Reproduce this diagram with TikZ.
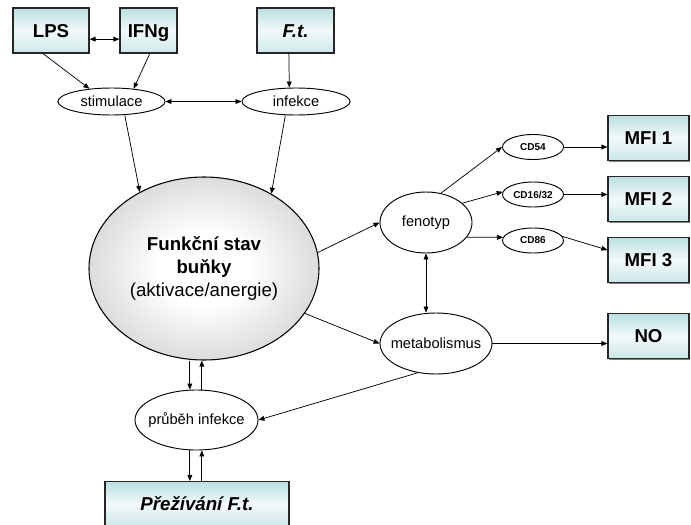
\documentclass[tikz,border=0pt]{standalone}
\usepackage{fontspec}
\setmainfont{Liberation Sans}
\usetikzlibrary{arrows.meta, shapes.geometric, shadows}
\definecolor{cteal}{HTML}{BCDFE2}
\definecolor{cpale}{HTML}{F3F9F9}
\definecolor{cline}{HTML}{262626}
\definecolor{cgrey}{HTML}{DCDCDC}
\pgfdeclareradialshading{cellshade}{\pgfpoint{0bp}{0bp}}{color(0bp)=(white); color(10bp)=(white); color(25bp)=(cgrey); color(50bp)=(cgrey)}
\tikzset{
  every picture/.style={line width=0.6pt},
  box/.style={draw=cline, line width=0.9pt, top color=cteal, bottom color=cteal!75, middle color=cpale,
    minimum width=#1, minimum height=33.75pt, inner sep=0pt, text height=10pt, text depth=0pt,
    font=\fontsize{14}{16}\selectfont\bfseries,
    drop shadow={shadow xshift=1pt, shadow yshift=-1pt, fill=black!50, opacity=1}},
  box/.default=57pt,
  oval/.style={ellipse, draw=black, line width=0.7pt, inner xsep=-6pt, inner ysep=0pt, font=\fontsize{11}{13}\selectfont},
  marker/.style={oval, minimum width=45.75pt, minimum height=18.75pt, font=\fontsize{7.5}{9}\selectfont\bfseries},
  arrow/.style={-{Triangle[length=4.5pt, width=3.6pt]}, draw=black, line width=0.55pt},
  twoway/.style={arrow, {Triangle[length=4.5pt, width=3.6pt]}-{Triangle[length=4.5pt, width=3.6pt]}},
}

\begin{document}
\begin{tikzpicture}[x=0.75pt, y=-0.75pt]
  \useasboundingbox (0,0) rectangle (691,524);
  \clip (0,0) rectangle (691,524);
  % inputs
  \node[box] (lps) at (51,30.5) {LPS};
  \node[box=42.75pt] (ifng) at (148.5,30.5) {IFNg};
  \node[box=57.75pt] (ft) at (295.5,30.5) {\textit{F.t.}};
  \node[oval, minimum width=80.25pt, minimum height=20.25pt] (stim) at (111.5,101.5) {stimulace};
  \node[oval, minimum width=81pt, minimum height=20.25pt] (inf) at (296,101.5) {infekce};
  % cell state
  \node[oval, minimum width=172.5pt, minimum height=137.25pt, line width=0.8pt, shading=cellshade,
    align=center, font=\fontsize{14}{17.5}\selectfont]
    (cell) at (204,268.5) {\textbf{Funkční stav}\\ \textbf{buňky}\\ (aktivace/anergie)};
  \node[oval, minimum width=69pt, minimum height=45.75pt] (feno) at (426,222.5) {fenotyp};
  \node[oval, minimum width=84pt, minimum height=45.75pt] (metab) at (436,343.5) {metabolismus};
  \node[oval, minimum width=92.25pt, minimum height=45pt] (prub) at (196.5,420) {průběh infekce};
  \node[marker] (cd54) at (533,147) {CD54};
  \node[marker] (cd1632) at (533,194.5) {CD16/32};
  \node[marker] (cd86) at (533,240.5) {CD86};
  % outputs
  \node[box=60.75pt] (mfi1) at (648.5,138) {MFI 1};
  \node[box=60.75pt] (mfi2) at (648.5,199) {MFI 2};
  \node[box=60.75pt] (mfi3) at (648.5,260) {MFI 3};
  \node[box=60.75pt] (no) at (648.5,336) {NO};
  \node[box=138pt] (surv) at (197,504) {\textit{Přežívání F.t.}};

  \draw[twoway] ([yshift=-6.5pt]lps.east) -- ([yshift=-6.5pt]ifng.west);
  \draw[arrow] ([xshift=-6pt]lps.south) -- (stim.150);
  \draw[arrow] ([xshift=1pt]ifng.south) -- (stim.30);
  \draw[arrow] ([xshift=-5pt]ft.south) -- ([xshift=-5pt]inf.north);
  \draw[twoway] (stim) -- (inf);
  \draw[arrow] ([xshift=10pt]stim.south) -- (cell.130);
  \draw[arrow] ([xshift=-8pt]inf.south) -- (cell.48);
  \draw[arrow] (cell.8) -- (feno.west);
  \draw[arrow] (cell.-24) -- (metab.west);
  \draw[arrow] (metab.238) -- (prub.east);
  \draw[twoway] (feno.south) -- (feno.south |- metab.north);
  \draw[arrow] (feno.63) -- (cd54.west);
  \draw[arrow] (feno.28) -- (cd1632.175);
  \draw[arrow] (feno.-20) -- (cd86.174);
  \draw[arrow] (cd54.east) -- (cd54.east -| mfi1.west);
  \draw[arrow] (cd1632.east) -- (cd1632.east -| mfi2.west);
  \draw[arrow] (cd86.8) -- ([yshift=7.5pt]mfi3.west);
  \draw[arrow] (metab.east) -- (metab.east -| no.west);
  % feedback loops
  \draw[arrow] ([xshift=-5pt]prub.north |- cell.south) -- ([xshift=-5pt]prub.north);
  \draw[arrow] ([xshift=4pt]prub.north) -- ([xshift=4pt]prub.north |- cell.south);
  \draw[arrow] ([xshift=-5pt]prub.south) -- ([xshift=-5pt]prub.south |- surv.north);
  \draw[arrow] ([xshift=4pt]prub.south |- surv.north) -- ([xshift=4pt]prub.south);
\end{tikzpicture}
\end{document}
